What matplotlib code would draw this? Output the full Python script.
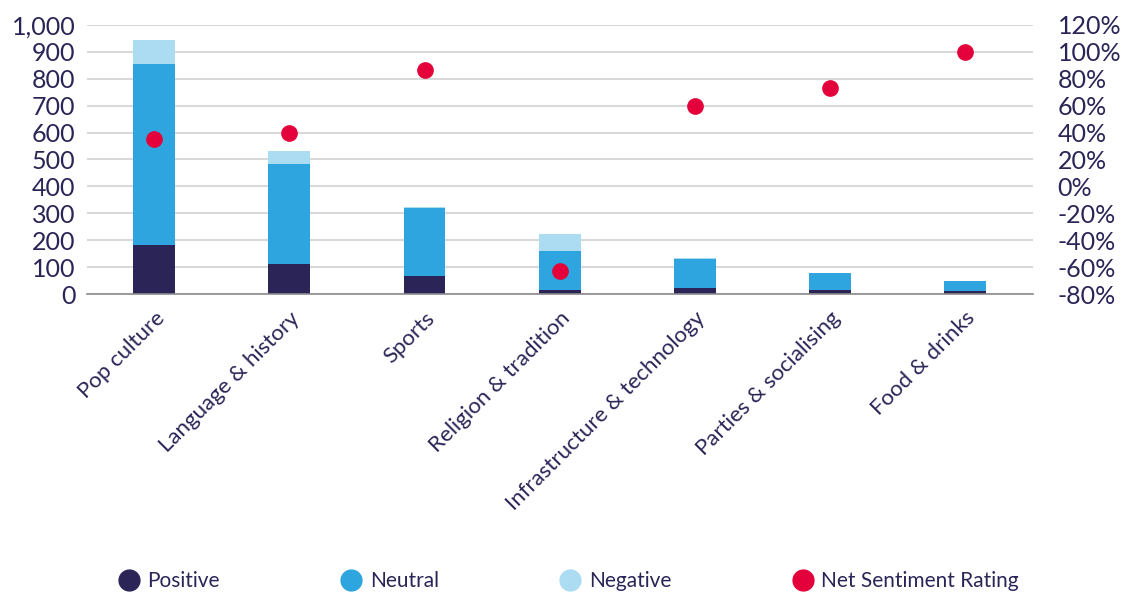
import numpy as np
import matplotlib.pyplot as plt
from matplotlib.lines import Line2D
from matplotlib.ticker import FuncFormatter

plt.rcParams['font.family'] = ['Lato', 'DejaVu Sans']

categories = ["Pop culture", "Language & history", "Sports", "Religion & tradition",
              "Infrastructure & technology", "Parties & socialising", "Food & drinks"]
positive = [184, 111, 67, 14, 22, 14, 10]
neutral = [670, 371, 252, 147, 109, 66, 37]
negative = [90, 48, 5, 61, 4, 0, 0]
net_sentiment = [35.5, 39.4, 86.6, -62.6, 60, 73, 100]

navy = '#2a2557'
c_pos = '#2b2456'
c_neu = '#2ea5de'
c_neg = '#acdcf2'
c_nsr = '#e4003a'
grid_c = '#d9d9d9'

fig = plt.figure(figsize=(11.26, 5.94), dpi=100)
ax = fig.add_axes([0.077, 0.505, 0.84, 0.453])

x = np.arange(len(categories))
w = 0.31
pos = np.array(positive)
neu = np.array(neutral)
neg = np.array(negative)
ax.bar(x, pos, w, color=c_pos, zorder=2)
ax.bar(x, neu, w, bottom=pos, color=c_neu, zorder=2)
ax.bar(x, neg, w, bottom=pos + neu, color=c_neg, zorder=2)

ax.set_xlim(-0.5, len(categories) - 0.5)
ax.set_ylim(0, 1000)
ax.set_yticks(np.arange(0, 1001, 100))
ax.yaxis.set_major_formatter(FuncFormatter(lambda v, p: f"{int(v):,}"))
ax.grid(axis='y', color=grid_c, linewidth=1.5, zorder=0)
ax.set_axisbelow(True)
for s in ['top', 'right', 'left']:
    ax.spines[s].set_visible(False)
ax.spines['bottom'].set_color('#8c8c8c')
ax.spines['bottom'].set_linewidth(1.2)
ax.tick_params(axis='both', length=0, colors=navy, labelsize=18)
ax.tick_params(axis='y', pad=8)
ax.set_xticks(x)
ax.set_xticklabels(categories, rotation=45, ha='right', rotation_mode='anchor',
                   fontsize=16, color=navy)
ax.tick_params(axis='x', pad=10)

ax2 = ax.twinx()
ax2.plot(x, np.array(net_sentiment) / 100, 'o', color=c_nsr, markersize=11, zorder=3)
ax2.set_ylim(-0.8, 1.2)
ax2.set_yticks(np.arange(-0.8, 1.21, 0.2))
ax2.yaxis.set_major_formatter(FuncFormatter(lambda v, p: f"{round(v * 100):d}%"))
for s in ax2.spines.values():
    s.set_visible(False)
ax2.tick_params(axis='y', length=0, colors=navy, labelsize=18, pad=18)

handles = [Line2D([], [], marker='o', linestyle='', color=c, markersize=15)
           for c in [c_pos, c_neu, c_neg, c_nsr]]
labels = ["Positive", "Neutral", "Negative", "Net Sentiment Rating"]
fig.legend(handles, labels, loc='center', bbox_to_anchor=(0.505, 0.022), ncol=4,
           frameon=False, fontsize=15, labelcolor=navy, handletextpad=0.4,
           columnspacing=5.8, handlelength=1.0)

fig.savefig('out.png', dpi=100)
